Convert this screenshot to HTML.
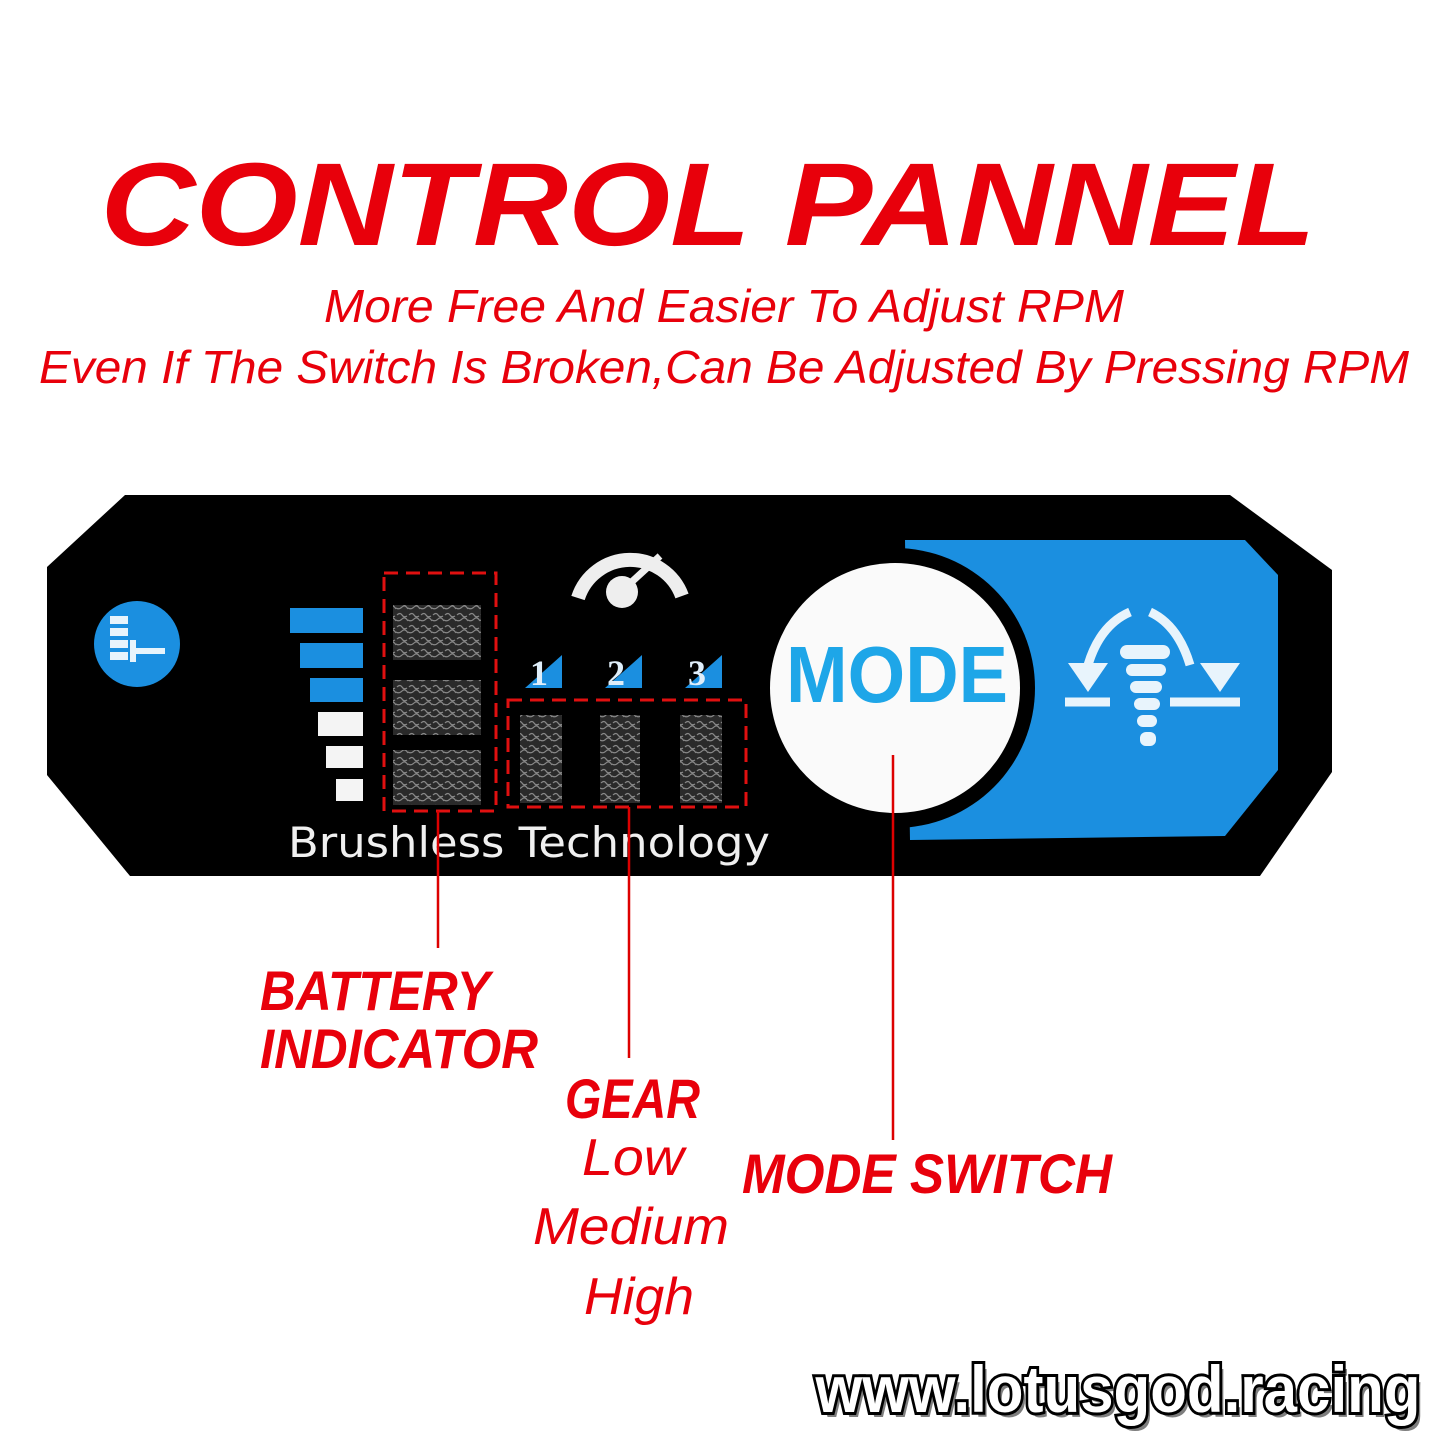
<!DOCTYPE html>
<html><head><meta charset="utf-8"><style>
body{margin:0;background:#fff;}
svg{display:block}
</style></head><body>
<svg width="1445" height="1445" viewBox="0 0 1445 1445" xmlns="http://www.w3.org/2000/svg">
<defs>
<pattern id="noise" width="12" height="12" patternUnits="userSpaceOnUse">
<rect width="12" height="12" fill="#2a2a2a"/>
<path d="M1 3q3-3 5 0t5 1M0 8q3 2 6-1t6 2" stroke="#888" stroke-width="1.2" fill="none"/>
</pattern>
</defs>
<text x="708" y="245" text-anchor="middle" font-family="Liberation Sans, sans-serif" font-weight="bold" font-style="italic" font-size="118" fill="#e8000b" textLength="1215" lengthAdjust="spacingAndGlyphs">CONTROL PANNEL</text>
<text x="724" y="322" text-anchor="middle" font-family="Liberation Sans, sans-serif" font-style="italic" font-size="46" fill="#e8000b" textLength="800" lengthAdjust="spacingAndGlyphs">More Free And Easier To Adjust RPM</text>
<text x="724" y="383" text-anchor="middle" font-family="Liberation Sans, sans-serif" font-style="italic" font-size="46" fill="#e8000b" textLength="1370" lengthAdjust="spacingAndGlyphs">Even If The Switch Is Broken,Can Be Adjusted By Pressing RPM</text>

<polygon points="125,495 1230,495 1332,570 1332,772 1260,876 130,876 47,775 47,567" fill="#000"/>
<polygon points="905,540 1245,540 1278,575 1278,770 1225,836 910,840" fill="#1b8fe0"/>
<circle cx="895" cy="688" r="140" fill="#000"/>
<circle cx="895" cy="688" r="125" fill="#fafafa"/>
<text x="897" y="702" text-anchor="middle" font-family="Liberation Sans, sans-serif" font-weight="bold" font-size="80" fill="#1ea6e8" textLength="222" lengthAdjust="spacingAndGlyphs">MODE</text>

<!-- right icon -->
<g fill="none" stroke="#e8f4fc" stroke-width="9">
<path d="M1088,665 Q1100,625 1130,612"/><path d="M1190,665 Q1178,625 1150,612"/>
<line x1="1065" y1="702" x2="1110" y2="702"/><line x1="1170" y1="702" x2="1240" y2="702"/>
</g>
<polygon points="1068,663 1108,663 1088,692" fill="#e8f4fc"/>
<polygon points="1200,663 1240,663 1220,692" fill="#e8f4fc"/>
<g fill="#e8f4fc"><rect x="1120" y="645" width="50" height="14" rx="7"/><rect x="1126" y="664" width="40" height="12" rx="6"/><rect x="1130" y="681" width="32" height="12" rx="6"/><rect x="1134" y="698" width="26" height="12" rx="6"/><rect x="1137" y="715" width="20" height="12" rx="6"/><rect x="1140" y="732" width="16" height="14" rx="6"/></g>

<!-- left icon -->
<circle cx="137" cy="644" r="43" fill="#1b8fe0"/>
<g fill="#e8f4fc"><rect x="110" y="616" width="18" height="8"/><rect x="110" y="628" width="18" height="8"/><rect x="110" y="640" width="18" height="8"/><rect x="110" y="652" width="18" height="8"/><rect x="130" y="640" width="6" height="22"/><rect x="135" y="648" width="30" height="6"/></g>

<!-- battery bars -->
<rect x="290" y="608" width="73" height="25" fill="#1b8fe0"/>
<rect x="300" y="643" width="63" height="25" fill="#1b8fe0"/>
<rect x="310" y="678" width="53" height="24" fill="#1b8fe0"/>
<rect x="318" y="712" width="45" height="24" fill="#f4f4f4"/>
<rect x="326" y="746" width="37" height="22" fill="#f4f4f4"/>
<rect x="336" y="779" width="27" height="22" fill="#f4f4f4"/>
<rect x="393" y="605" width="88" height="55" fill="url(#noise)"/>
<rect x="393" y="680" width="88" height="55" fill="url(#noise)"/>
<rect x="393" y="750" width="88" height="55" fill="url(#noise)"/>
<rect x="384" y="573" width="112" height="238" fill="none" stroke="#e01010" stroke-width="3" stroke-dasharray="14,8"/>

<!-- gauge -->
<path d="M578,598 A55,55 0 0 1 682,596" fill="none" stroke="#eee" stroke-width="14"/>
<line x1="625" y1="588" x2="660" y2="556" stroke="#eee" stroke-width="7"/>
<circle cx="622" cy="592" r="16" fill="#eee"/>
<!-- gear numbers -->
<g font-family="Liberation Serif, serif" font-size="36" fill="#dfeefa" font-weight="bold">
<polygon points="525,688 562,655 562,688" fill="#1b8fe0"/><text x="530" y="685">1</text>
<polygon points="605,688 642,655 642,688" fill="#1b8fe0"/><text x="607" y="685">2</text>
<polygon points="685,688 722,655 722,688" fill="#1b8fe0"/><text x="688" y="685">3</text>
</g>
<rect x="520" y="715" width="42" height="88" fill="url(#noise)"/>
<rect x="600" y="715" width="40" height="88" fill="url(#noise)"/>
<rect x="680" y="715" width="42" height="88" fill="url(#noise)"/>
<rect x="508" y="700" width="238" height="107" fill="none" stroke="#e01010" stroke-width="3" stroke-dasharray="14,8"/>

<text x="288" y="857" font-family="DejaVu Sans, sans-serif" font-size="42" fill="#f0f0f0" textLength="482" lengthAdjust="spacingAndGlyphs">Brushless Technology</text>

<g stroke="#d00" stroke-width="2.5">
<line x1="438" y1="811" x2="438" y2="948"/>
<line x1="629" y1="807" x2="629" y2="1058"/>
<line x1="893" y1="755" x2="893" y2="1140"/>
</g>
<g font-family="Liberation Sans, sans-serif" font-weight="bold" font-style="italic" fill="#e8000b">
<text x="260" y="1010" font-size="56" textLength="230" lengthAdjust="spacingAndGlyphs">BATTERY</text>
<text x="260" y="1068" font-size="56" textLength="278" lengthAdjust="spacingAndGlyphs">INDICATOR</text>
<text x="565" y="1118" font-size="56" textLength="135" lengthAdjust="spacingAndGlyphs">GEAR</text>
<text x="742" y="1193" font-size="56" textLength="370" lengthAdjust="spacingAndGlyphs">MODE SWITCH</text>
</g>
<g font-family="Liberation Sans, sans-serif" font-style="italic" fill="#e8000b" font-size="52" text-anchor="middle">
<text x="633" y="1175" textLength="102" lengthAdjust="spacingAndGlyphs">Low</text>
<text x="631" y="1244" textLength="196" lengthAdjust="spacingAndGlyphs">Medium</text>
<text x="639" y="1314" textLength="110" lengthAdjust="spacingAndGlyphs">High</text>
</g>
<text x="1122" y="1417" text-anchor="middle" font-family="Liberation Sans, sans-serif" font-weight="bold" font-size="66" fill="#000" opacity="0.5" textLength="605" lengthAdjust="spacingAndGlyphs">www.lotusgod.racing</text>
<text x="1118" y="1412" text-anchor="middle" font-family="Liberation Sans, sans-serif" font-weight="bold" font-size="66" fill="#fff" stroke="#000" stroke-width="6" paint-order="stroke" textLength="605" lengthAdjust="spacingAndGlyphs">www.lotusgod.racing</text>
</svg>
</body></html>
